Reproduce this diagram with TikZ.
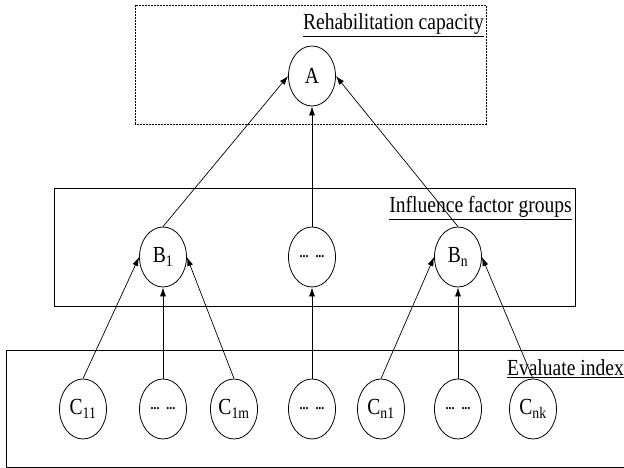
\documentclass[tikz,border=0pt]{standalone}
\usepackage{fontspec}
\setmainfont[FakeStretch=0.85]{Liberation Serif}
\usetikzlibrary{shapes.geometric, arrows.meta}

\newcommand{\dotsgap}{{\fontsize{14}{14}\selectfont\bfseries ...\hspace{7pt}...}}

\begin{document}
\begin{tikzpicture}[x=1pt, y=1pt,
        font=\fontsize{23}{26}\selectfont,
        factor/.style={draw, ellipse, minimum width=47pt, minimum height=60pt, inner sep=0pt, line width=0.8pt},
        grouplabel/.style={anchor=base east, inner sep=0pt},
        link/.style={-{Latex[length=9pt, width=6pt]}, line width=0.7pt}]
        \useasboundingbox (0, 0) rectangle (624, 468);

        % level boxes
        \draw[dash pattern=on 2pt off 1pt, line width=0.7pt] (135, 344) rectangle (486, 463);
        \draw[line width=0.8pt] (54, 162) rectangle (575, 280);
        \draw[line width=0.8pt] (624, 118) -- (6, 118) -- (6, 1) -- (624, 1);

        \node[grouplabel] (rehab) at (484, 438) {\underline{Rehabilitation capacity}};
        \node[grouplabel] (influence) at (572, 255) {\underline{Influence factor groups}};
        \node[grouplabel] (evaluate) at (624, 92) {\underline{Evaluate index}};

        % goal
        \node[factor] (a) at (312, 392) {A};

        % factor groups
        \node[factor] (b1) at (163, 211) {B\textsubscript{1}};
        \node[factor] (bdots) at (312, 211) {\dotsgap};
        \node[factor] (bn) at (458, 211) {B\textsubscript{n}};

        % indexes
        \node[factor] (c11) at (83, 59) {C\textsubscript{11}};
        \node[factor] (c1dots) at (163, 59) {\dotsgap};
        \node[factor] (c1m) at (234, 59) {C\textsubscript{1m}};
        \node[factor] (cdots) at (312, 59) {\dotsgap};
        \node[factor] (cn1) at (381, 59) {C\textsubscript{n1}};
        \node[factor] (cndots) at (458, 59) {\dotsgap};
        \node[factor] (cnk) at (533, 59) {C\textsubscript{nk}};

        \draw[link] (b1.north) -- (a.west);
        \draw[link] (bdots.north) -- (a.south);
        \draw[link] (bn.north) -- (a.east);

        \draw[link] (c11.north) -- (b1.west);
        \draw[link] (c1dots.north) -- (b1.south);
        \draw[link] (c1m.north) -- (b1.east);
        \draw[link] (cdots.north) -- (bdots.south);
        \draw[link] (cn1.north) -- (bn.west);
        \draw[link] (cndots.north) -- (bn.south);
        \draw[link] (cnk.north) -- (bn.east);
\end{tikzpicture}
\end{document}
